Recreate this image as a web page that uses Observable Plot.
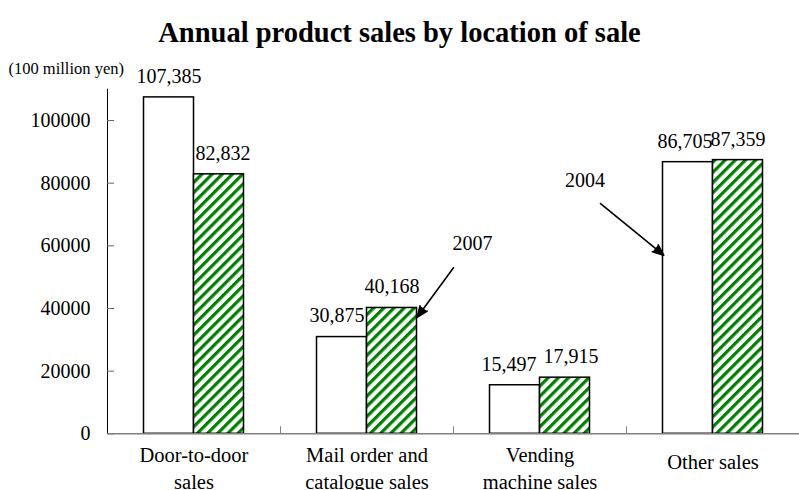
<!DOCTYPE html>
<html>
<head>
<meta charset="utf-8">
<script src="https://cdn.jsdelivr.net/npm/d3@7"></script>
<script src="https://cdn.jsdelivr.net/npm/@observablehq/plot@0.6"></script>
<style>
  html, body { margin: 0; padding: 0; background: #fff; }
  #title {
    width: 799px; height: 48px;
    font: bold 28.5px "Liberation Serif", "Times New Roman", serif;
    line-height: 65px;
    text-align: center; color: #000; white-space: nowrap;
  }
  #chart svg { display: block; overflow: visible; }
</style>
</head>
<body>
<div id="title">Annual product sales by location of sale</div>
<div id="chart"></div>
<script>
// Annual product sales (100 million yen) by location of sale
const categories = ["Door-to-door\nsales", "Mail order and\ncatalogue sales", "Vending\nmachine sales", "Other sales"];
const years = ["2004", "2007"];
const sales2004 = [107385, 30875, 15497, 86705];
const sales2007 = [82832, 40168, 17915, 87359];
const yTicks = [0, 20000, 40000, 60000, 80000, 100000];
const unitLabel = "(100 million yen)";

// Horizontal nudges (px) that keep neighbouring value labels apart: [2004, 2007] per category
const labelShift = [[0, 4], [-5, 0], [-6, 6], [-3, 0]];

// Callouts naming the year of each bar style
const callouts = [
  {label: "2007", x1: 2.0, y1: 53000, x2: 1.79, y2: 37200, tx: 2.11, ty: 60700},
  {label: "2004", x1: 2.85, y1: 73500, x2: 3.215, y2: 57000, tx: 2.76, ty: 80900}
];

// Each category occupies one unit along x; the two bars sit side by side in the middle
const barWidth = 0.289;
const bars = categories.flatMap((c, i) => [
  {category: c, year: years[0], value: sales2004[i], x1: i + 0.5 - barWidth, x2: i + 0.5, shift: labelShift[i][0]},
  {category: c, year: years[1], value: sales2007[i], x1: i + 0.5, x2: i + 0.5 + barWidth, shift: labelShift[i][1]}
]);
const catRows = categories.map((c, i) => ({label: c, x: i + 0.5}));

const W = 799, H = 442, mL = 107, mR = 0, mT = 40.7, mB = 56.7;
const frameW = W - mL - mR, frameH = H - mT - mB;
const serif = "Liberation Serif, Times New Roman, serif";
const fmt = d3.format(",");

const chart = Plot.plot({
  width: W,
  height: H,
  marginLeft: mL,
  marginRight: mR,
  marginTop: mT,
  marginBottom: mB,
  style: {fontFamily: serif, color: "#000", background: "#fff"},
  x: {domain: [0, categories.length], axis: null},
  y: {domain: [0, 110000], axis: null},
  marks: [
    // bars
    Plot.rectY(bars.filter(d => d.year === years[0]), {x1: "x1", x2: "x2", y: "value", fill: "#fff", stroke: "#000", strokeWidth: 1.5}),
    Plot.rectY(bars.filter(d => d.year === years[1]), {x1: "x1", x2: "x2", y: "value", fill: "url(#hatch2007)", stroke: "#000", strokeWidth: 1.5}),
    // y axis line, inward ticks and labels
    Plot.ruleX([0], {stroke: "#000", strokeWidth: 1}),
    Plot.tickY(yTicks, {y: d => d, stroke: "#666", strokeWidth: 1, insetRight: frameW - 7}),
    Plot.text(yTicks, {y: d => d, frameAnchor: "left", textAnchor: "end", dx: -17, fontSize: 20, text: d => String(d)}),
    // baseline and category separators
    Plot.ruleY([0], {stroke: "#808080", strokeWidth: 1.5}),
    Plot.tickX([1, 2, 3], {x: d => d, stroke: "#808080", strokeWidth: 1, insetTop: frameH - 7}),
    // category labels
    Plot.text(catRows.filter(d => d.label.includes("\n")), {x: "x", y: 0, text: "label", lineAnchor: "top", lineHeight: 1.3, dy: 9.5, fontSize: 20.5}),
    Plot.text(catRows.filter(d => !d.label.includes("\n")), {x: "x", y: 0, text: "label", lineAnchor: "top", dy: 21, fontSize: 20.5}),
    // value labels
    ...bars.map(d => Plot.text([d], {x: b => (b.x1 + b.x2) / 2, y: "value", text: b => fmt(b.value), dy: -21, dx: d.shift, fontSize: 20})),
    // unit label
    Plot.text([unitLabel], {frameAnchor: "top-left", textAnchor: "start", dx: -99, dy: -26.5, fontSize: 16.5, text: d => d}),
    // callouts
    Plot.arrow(callouts, {x1: "x1", y1: "y1", x2: "x2", y2: "y2", stroke: "#000", fill: "#000", strokeWidth: 1.6, headLength: 11, headAngle: 45}),
    Plot.text(callouts, {x: "tx", y: "ty", text: "label", fontSize: 20})
  ]
});

// Diagonal green hatching used by the 2007 bars
const ns = "http://www.w3.org/2000/svg";
const defs = document.createElementNS(ns, "defs");
const pattern = document.createElementNS(ns, "pattern");
pattern.setAttribute("id", "hatch2007");
pattern.setAttribute("patternUnits", "userSpaceOnUse");
pattern.setAttribute("width", "7.2");
pattern.setAttribute("height", "7.2");
pattern.setAttribute("patternTransform", "rotate(45)");
const bg = document.createElementNS(ns, "rect");
bg.setAttribute("width", "7.2");
bg.setAttribute("height", "7.2");
bg.setAttribute("fill", "#fff");
const stripe = document.createElementNS(ns, "rect");
stripe.setAttribute("x", "0");
stripe.setAttribute("width", "3.2");
stripe.setAttribute("height", "7.2");
stripe.setAttribute("fill", "#008000");
pattern.appendChild(bg);
pattern.appendChild(stripe);
defs.appendChild(pattern);
chart.insertBefore(defs, chart.firstChild);

document.getElementById("chart").appendChild(chart);
</script>
</body>
</html>
